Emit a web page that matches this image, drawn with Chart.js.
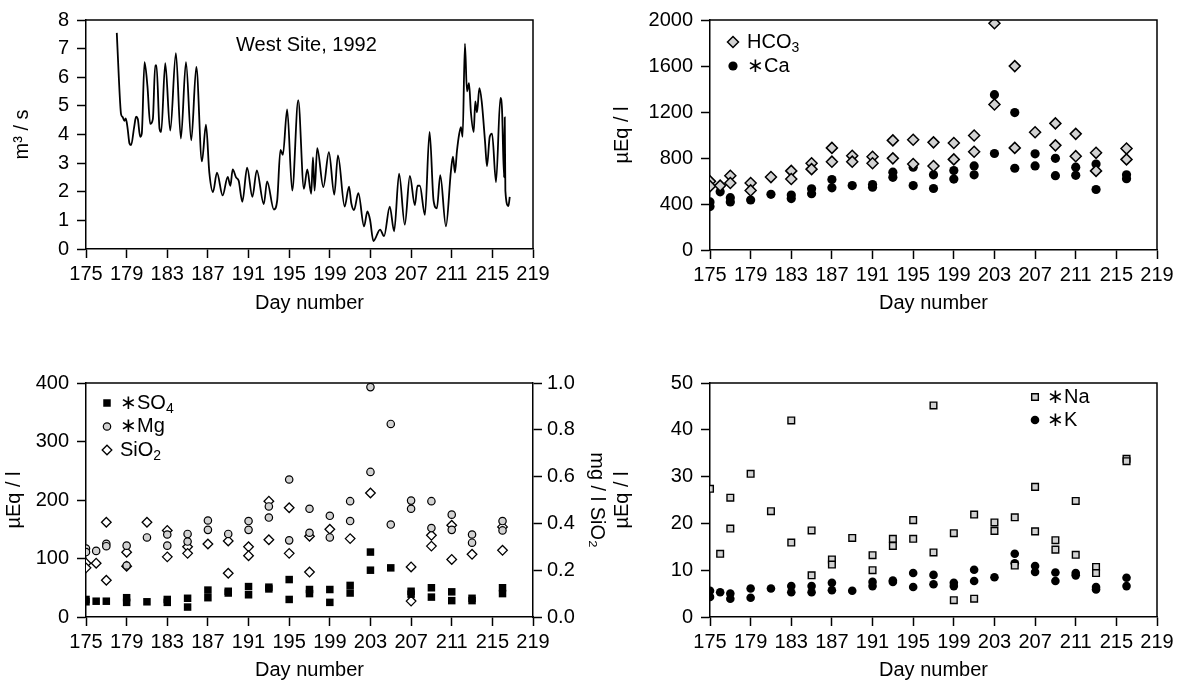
<!DOCTYPE html>
<html><head><meta charset="utf-8">
<script src="https://cdn.jsdelivr.net/npm/chart.js@4.4.0/dist/chart.umd.min.js"></script>
<style>
html,body{margin:0;padding:0;background:#fff;}
#wrap{position:relative;width:1184px;height:683px;overflow:hidden;background:#fff;}
canvas{position:absolute;}
</style></head><body>
<div id="wrap">
<canvas id="c1" width="592" height="330" style="left:0;top:0"></canvas>
<canvas id="c2" width="584" height="330" style="left:600px;top:0"></canvas>
<canvas id="c3" width="620" height="343" style="left:0;top:340px"></canvas>
<canvas id="c4" width="584" height="343" style="left:600px;top:340px"></canvas>
</div>
<script>
// ---------- DATA ----------
const dayTicks = [175,179,183,187,191,195,199,203,207,211,215,219];

const flowDays = [178.03,178.36,178.45,178.62,178.78,178.91,179.08,179.28,179.44,179.74,179.93,180.10,180.33,180.49,180.76,181.05,181.32,181.58,181.81,181.94,182.24,182.40,182.80,183.29,183.85,184.34,184.84,185.36,185.86,186.41,186.81,187.14,187.50,187.89,188.45,188.95,189.21,189.44,189.77,190.03,190.39,190.86,191.38,191.81,192.50,192.83,193.49,193.82,194.14,194.38,194.80,195.30,195.89,196.45,196.78,197.17,197.34,197.50,197.76,198.36,198.91,199.44,199.80,200.46,200.89,201.12,201.38,201.81,202.37,202.70,202.96,203.29,203.95,204.34,204.90,205.33,205.82,206.38,206.88,207.37,207.63,207.86,208.36,208.82,209.21,209.54,209.87,210.43,210.92,211.12,211.32,211.51,211.74,211.91,212.07,212.30,212.50,212.70,212.89,213.16,213.32,213.49,213.72,213.95,214.28,214.47,214.74,214.97,215.36,215.79,215.95,216.15,216.22,216.28,216.58,216.71];
const flowValues = [7.55,5.11,4.71,4.60,4.48,4.56,4.26,3.69,3.63,4.26,4.62,4.54,3.92,4.03,6.53,5.68,4.37,4.54,6.41,6.41,4.20,4.09,6.49,4.14,6.84,3.86,6.53,3.80,6.36,3.06,4.34,2.67,1.99,2.67,1.87,2.52,2.21,2.78,2.50,2.38,1.65,2.84,1.82,2.75,1.57,2.36,1.38,1.70,3.46,3.29,4.88,2.04,5.20,2.10,2.78,1.93,3.20,2.04,3.52,2.16,3.38,1.90,3.27,1.48,2.18,1.59,1.36,1.95,0.79,1.31,1.02,0.28,0.68,0.45,1.48,0.62,2.63,0.85,2.55,1.53,2.21,2.21,1.19,4.09,1.70,1.42,2.58,0.79,2.72,3.23,2.67,3.41,4.03,4.26,3.92,7.17,5.51,5.79,4.77,4.09,5.16,4.77,5.62,5.16,3.75,2.89,3.92,4.03,2.33,5.28,4.88,2.50,4.60,2.04,1.50,1.82];

const hco3Days = [175,175,176,177,177,179,179,181,183,183,185,185,187,187,189,189,191,191,193,193,195,195,197,197,199,199,201,201,203,203,205,205,207,209,209,211,211,213,213,216,216];
const hco3Values = [597,555,560,646,583,583,518,634,688,617,754,703,888,768,819,768,811,754,953,797,959,748,936,730,930,788,996,854,1972,1266,1599,888,1024,1101,910,1010,816,845,688,882,788];
const caDays = [175,175,176,177,177,179,181,183,183,185,185,187,187,189,191,191,193,193,195,195,197,197,199,199,201,201,203,203,205,205,207,207,209,209,211,211,213,213,216,216];
const caValues = [418,378,506,455,418,435,484,478,447,532,489,612,541,560,569,546,677,632,720,560,654,535,691,617,731,654,1351,839,1195,711,836,731,797,646,720,649,748,526,654,620];

const so4Days = [175,175,176,177,179,179,181,183,183,185,185,187,187,189,189,191,191,193,193,195,195,197,197,199,199,201,201,203,203,205,207,207,209,209,211,211,213,213,216,216];
const so4Values = [30,26,27,27,33,25,26,30,25,32,17,46,33,44,41,52,38,51,48,64,30,47,40,47,25,54,41,111,80,84,44,39,50,34,43,28,32,28,50,40];
const mgDays = [175,175,176,177,177,179,179,181,183,183,185,185,187,187,189,191,191,193,193,195,195,197,197,199,199,201,201,203,203,205,205,207,207,209,209,211,211,213,213,216,216];
const mgValues = [117,111,113,125,121,122,88,136,141,122,142,129,165,149,142,164,149,189,170,235,131,185,144,173,136,198,164,393,248,330,158,199,185,198,152,175,149,141,127,164,148];
const sio2Days = [175,175,176,177,177,179,179,181,183,183,185,185,187,189,189,191,191,193,193,195,195,197,197,199,201,203,207,207,209,209,211,211,213,216,216];
const sio2Values = [0.23,0.21,0.23,0.405,0.157,0.277,0.217,0.405,0.37,0.257,0.30,0.272,0.312,0.325,0.187,0.30,0.262,0.495,0.33,0.467,0.272,0.345,0.192,0.375,0.335,0.53,0.214,0.068,0.349,0.303,0.392,0.246,0.268,0.385,0.285];

const naDays = [175,176,177,177,179,181,183,183,185,185,187,187,189,191,191,193,193,195,195,197,197,199,199,201,201,203,203,205,205,207,207,209,209,211,211,213,213,216,216];
const naValues = [27.4,13.5,25.5,18.9,30.6,22.6,42.0,15.9,18.5,8.9,12.3,11.2,16.9,13.2,10.0,16.7,15.2,20.7,16.7,45.2,13.8,17.9,3.6,21.9,3.9,20.2,18.4,21.3,11.0,27.8,18.3,16.4,14.4,24.8,13.3,10.7,9.4,33.8,33.3];
const kDays = [175,175,176,177,177,179,179,181,183,183,185,185,187,187,189,191,191,193,193,195,195,197,197,199,199,201,201,203,205,205,207,207,209,209,211,211,213,213,216,216];
const kValues = [5.6,4.3,5.3,5.0,3.9,6.1,4.1,6.1,6.6,5.3,6.6,5.3,7.3,5.7,5.6,7.5,6.6,7.8,7.5,9.4,6.4,9.0,7.0,7.3,6.6,10.1,7.7,8.5,13.5,11.5,10.9,9.6,9.5,7.7,9.4,8.9,6.4,5.9,8.4,6.6];

// ---------- STYLE / HELPERS ----------
const FONT = "'Liberation Sans', Arial, Helvetica, sans-serif";
const FS = 20;
Chart.defaults.font.family = FONT;
Chart.defaults.font.size = FS;
Chart.defaults.color = '#000';
Chart.defaults.animation = false;
const GRAY = '#d2d2d2';
const pts = (xs, ys) => xs.map((x, i) => ({x, y: ys[i]}));

function xScale(h, titlePad) {
  return {
    type: 'linear', min: dayTicks[0], max: dayTicks[dayTicks.length - 1],
    afterBuildTicks: s => { s.ticks = dayTicks.map(v => ({value: v})); },
    ticks: {padding: 4, maxRotation: 0, autoSkip: false, color: '#000', font: {size: FS}},
    grid: {drawOnChartArea: false, drawTicks: true, tickLength: 9, tickWidth: 1.5, tickColor: '#000'},
    border: {display: true, color: '#000', width: 1.5},
    title: {display: true, text: 'Day number', color: '#000', font: {size: FS}, padding: {top: 0, bottom: titlePad}},
    afterFit: s => { s.height = h; }
  };
}
function yScale(opts) {
  return {
    type: 'linear', position: opts.position || 'left', min: opts.min, max: opts.max,
    ticks: {stepSize: opts.step, padding: opts.pad || 8, color: '#000', font: {size: FS}, callback: opts.cb || (v => v)},
    grid: {drawOnChartArea: false, drawTicks: true, tickLength: 9, tickWidth: 1.5, tickColor: '#000'},
    border: {display: true, color: '#000', width: 1.5},
    title: {display: true, text: opts.title, color: '#000', font: {size: FS}, padding: {top: opts.tpad, bottom: 0}},
    afterFit: s => { s.width = opts.w; }
  };
}

function drawRich(ctx, text, x, y) {
  let cx = x;
  const subs = '₀₁₂₃₄₅₆₇₈₉';
  let buf = '', isSub = false;
  const flush = () => {
    if (!buf) return;
    if (isSub) {
      ctx.font = `${Math.round(FS * 0.72)}px ${FONT}`;
      ctx.fillText(buf, cx, y + FS * 0.32);
    } else {
      ctx.font = `${FS}px ${FONT}`;
      ctx.fillText(buf, cx, y);
    }
    cx += ctx.measureText(buf).width;
    buf = '';
  };
  for (const ch of text) {
    const si = subs.indexOf(ch);
    const s = si >= 0;
    if (s !== isSub) { flush(); isSub = s; }
    buf += s ? String(si) : ch;
  }
  flush();
}

const panelPlugin = {
  id: 'panel',
  afterDraw(chart, args, o) {
    const {ctx, chartArea: a} = chart;
    ctx.save();
    ctx.strokeStyle = '#000';
    ctx.lineWidth = 1.5;
    ctx.beginPath();
    ctx.moveTo(a.left, a.top);
    ctx.lineTo(a.right, a.top);
    if (o.rightLine) ctx.lineTo(a.right, a.bottom);
    ctx.stroke();
    ctx.fillStyle = '#000';
    ctx.textBaseline = 'middle';
    ctx.textAlign = 'left';
    if (o.note) {
      ctx.font = `${FS}px ${FONT}`;
      ctx.fillText(o.note.text, a.left + o.note.dx, a.top + o.note.dy);
    }
    if (o.legend) {
      const L = o.legend;
      L.items.forEach((di, k) => {
        const ds = chart.data.datasets[di];
        const y = a.top + L.dy + k * L.gap;
        const x = a.left + L.dx;
        ctx.fillStyle = ds.backgroundColor;
        ctx.strokeStyle = ds.borderColor;
        ctx.lineWidth = ds.borderWidth;
        Chart.helpers.drawPoint(ctx, {pointStyle: ds.pointStyle, radius: ds.pointRadius, rotation: 0, borderWidth: ds.borderWidth}, x, y);
        ctx.fillStyle = '#000';
        drawRich(ctx, ds.label, a.left + L.tx, y);
      });
    }
    ctx.restore();
  }
};

function scatterDs(label, xs, ys, style, r, bg, bw, extra) {
  return Object.assign({
    label, data: pts(xs, ys), pointStyle: style, pointRadius: r,
    backgroundColor: bg, borderColor: '#000', borderWidth: bw, showLine: false
  }, extra || {});
}
const common = {responsive: false, animation: false, events: [], plugins: {legend: {display: false}, tooltip: {enabled: false}}};

// ---------- PANEL 1: discharge ----------
new Chart(document.getElementById('c1'), {
  type: 'line',
  data: {datasets: [{
    label: 'Discharge', data: pts(flowDays, flowValues), borderColor: '#000', borderWidth: 1.8,
    pointRadius: 0, fill: false, cubicInterpolationMode: 'monotone'
  }]},
  options: Object.assign({}, common, {
    layout: {padding: {top: 15, right: 59, left: 0, bottom: 0}},
    scales: {
      x: xScale(81, 15),
      y: yScale({min: 0, max: 8, step: 1, w: 86, title: 'm³ / s', tpad: 10})
    },
    plugins: Object.assign({}, common.plugins, {panel: {rightLine: true, note: {text: 'West Site, 1992', dx: 150, dy: 25}}})
  }),
  plugins: [panelPlugin]
});

// ---------- PANEL 2: HCO3 / Ca ----------
new Chart(document.getElementById('c2'), {
  type: 'scatter',
  data: {datasets: [
    scatterDs('HCO₃', hco3Days, hco3Values, 'rectRot', 5.5, GRAY, 1.5),
    scatterDs('∗Ca', caDays, caValues, 'circle', 4.6, '#000', 0)
  ]},
  options: Object.assign({}, common, {
    layout: {padding: {top: 16, right: 27, left: 0, bottom: 0}},
    scales: {
      x: xScale(80, 15),
      y: yScale({min: 0, max: 2000, step: 200, w: 110, title: 'µEq / l', tpad: 10, cb: v => (v % 400 === 0 ? v : '')})
    },
    plugins: Object.assign({}, common.plugins, {panel: {rightLine: true, legend: {items: [0, 1], dx: 23, dy: 22, gap: 24, tx: 37}}})
  }),
  plugins: [panelPlugin]
});

// ---------- PANEL 3: SO4 / Mg / SiO2 ----------
new Chart(document.getElementById('c3'), {
  type: 'scatter',
  data: {datasets: [
    scatterDs('∗SO₄', so4Days, so4Values, 'rect', 5.3, '#000', 0),
    scatterDs('∗Mg', mgDays, mgValues, 'circle', 3.7, GRAY, 1.2),
    scatterDs('SiO₂', sio2Days, sio2Values, 'rectRot', 4.8, '#fff', 1.3, {yAxisID: 'y2'})
  ]},
  options: Object.assign({}, common, {
    layout: {padding: {top: 43, right: 0, left: 0, bottom: 0}},
    scales: {
      x: xScale(66, 1),
      y: yScale({min: 0, max: 400, step: 100, w: 86, title: 'µEq / l', tpad: 2}),
      y2: yScale({position: 'right', min: 0, max: 1, step: 0.2, w: 87, pad: 5, title: 'mg / l SiO₂', tpad: 11, cb: v => v.toFixed(1)})
    },
    plugins: Object.assign({}, common.plugins, {panel: {rightLine: false, legend: {items: [0, 1, 2], dx: 21, dy: 20, gap: 23.5, tx: 34}}})
  }),
  plugins: [panelPlugin]
});

// ---------- PANEL 4: Na / K ----------
new Chart(document.getElementById('c4'), {
  type: 'scatter',
  data: {datasets: [
    scatterDs('∗Na', naDays, naValues, 'rect', 4.7, GRAY, 1.4),
    scatterDs('∗K', kDays, kValues, 'circle', 4.3, '#000', 0)
  ]},
  options: Object.assign({}, common, {
    layout: {padding: {top: 43, right: 27, left: 0, bottom: 0}},
    scales: {
      x: xScale(66, 1),
      y: yScale({min: 0, max: 50, step: 10, w: 110, title: 'µEq / l', tpad: 10})
    },
    plugins: Object.assign({}, common.plugins, {panel: {rightLine: true, legend: {items: [0, 1], dx: 325, dy: 14, gap: 23, tx: 337}}})
  }),
  plugins: [panelPlugin]
});
</script>
</body></html>
